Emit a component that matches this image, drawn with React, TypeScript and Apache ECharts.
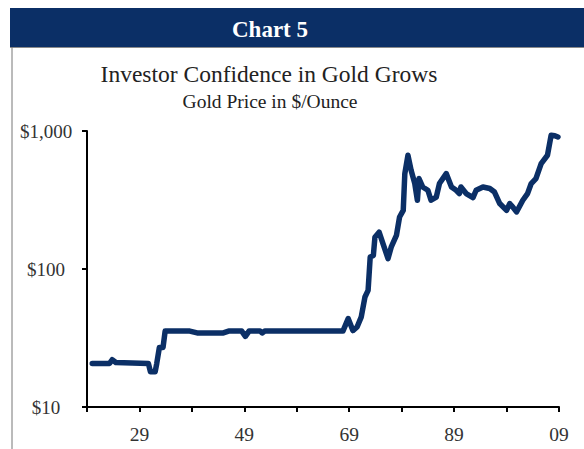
import React, { useEffect, useRef } from "react";
import * as echarts from "echarts";

const years = [
  1920, 1922, 1923.3, 1923.8, 1924.5, 1930.7, 1931.1, 1932, 1932.3, 1932.8, 1933.5, 1933.9,
  1938.6, 1940, 1945, 1946, 1948.5, 1949.2, 1949.9, 1950.4, 1952, 1952.4, 1952.9, 1967.8,
  1968.8, 1969.7, 1970.5, 1971.3, 1972, 1972.6, 1973, 1973.6, 1973.9, 1974.7, 1975.5, 1976.4,
  1977, 1978, 1978.6, 1979.3, 1979.6, 1980.2, 1980.8, 1981.5, 1982, 1982.3, 1983, 1984,
  1984.6, 1985.6, 1986.2, 1987.5, 1988.5, 1989.4, 1990, 1990.3, 1991.3, 1992.6, 1993.2, 1994.5,
  1995.8, 1996.7, 1997.7, 1999, 1999.6, 2000.2, 2000.9, 2002.1, 2003, 2003.7, 2004.6, 2005.6,
  2006.8, 2007.5, 2008.2, 2008.8,
];
const prices = [
  20.7, 20.7, 20.7, 22, 21, 20.7, 18, 18, 20.7, 27, 27, 35.5,
  35.5, 34.4, 34.4, 35.5, 35.5, 32.5, 35.5, 35.5, 35.5, 34.4, 35.5, 35.5,
  43.7, 35.8, 38, 45, 62.7, 70, 122, 125, 170, 185, 150, 119,
  144, 175, 238, 266, 490, 667, 519, 416, 315, 452, 393, 372,
  315, 332, 416, 491, 393, 372, 352, 393, 352, 329, 372, 393,
  383, 361, 298, 266, 298, 281, 259, 315, 352, 416, 452, 581,
  667, 931, 925, 905,
];
const yTickLabels: Record<number, string> = { 10: "$10", 100: "$100", 1000: "$1,000" };
const headerText = "Chart 5";
const titleText = "Investor Confidence in Gold Grows";
const subtitleText = "Gold Price in $/Ounce";

const NAVY = "#0b2f66";
const FONT = "'Liberation Serif', 'DejaVu Serif', serif";

export default function App() {
  const ref = useRef<HTMLDivElement>(null);
  useEffect(() => {
    if (!ref.current) return;
    const chart = echarts.init(ref.current, undefined, { renderer: "svg" });
    chart.setOption({
      animation: false,
      backgroundColor: "#ffffff",
      textStyle: { fontFamily: FONT },
      graphic: [
        { type: "rect", shape: { x: 10, y: 8, width: 574, height: 39 }, style: { fill: NAVY } },
        { type: "line", shape: { x1: 10, y1: 47.5, x2: 584, y2: 47.5 }, style: { stroke: "#8a8a8a", lineWidth: 1 } },
        { type: "line", shape: { x1: 12, y1: 47, x2: 12, y2: 449 }, style: { stroke: "#777777", lineWidth: 1 } },
        {
          type: "text", x: 270, y: 29,
          style: { text: headerText, fill: "#ffffff", font: `bold 23px ${FONT}`, textAlign: "center", textVerticalAlign: "middle" },
        },
        {
          type: "text", x: 269, y: 74,
          style: { text: titleText, fill: "#222222", font: `23.5px ${FONT}`, textAlign: "center", textVerticalAlign: "middle" },
        },
        {
          type: "text", x: 270, y: 101,
          style: { text: subtitleText, fill: "#222222", font: `19.5px ${FONT}`, textAlign: "center", textVerticalAlign: "middle" },
        },
      ],
      grid: { left: 87, right: 25, top: 131, bottom: 42, containLabel: false },
      xAxis: {
        type: "value",
        min: 1919,
        max: 2009,
        interval: 10,
        axisLine: { lineStyle: { color: "#000", width: 2 } },
        axisTick: { show: true, length: 5, lineStyle: { color: "#000", width: 2 } },
        axisLabel: {
          margin: 17,
          color: "#333",
          fontSize: 19.5,
          fontFamily: FONT,
          showMaxLabel: true,
          formatter: (v: number) => ((Math.round(v) - 1929) % 20 === 0 ? String(Math.round(v) % 100).padStart(2, "0") : ""),
        },
        splitLine: { show: false },
      },
      yAxis: {
        type: "log",
        logBase: 10,
        min: 10,
        max: 1000,
        axisLine: { show: true, lineStyle: { color: "#000", width: 2 } },
        axisTick: { show: true, length: 5, lineStyle: { color: "#000", width: 2 } },
        axisLabel: {
          margin: 41,
          align: "center",
          color: "#333",
          fontSize: 19,
          fontFamily: FONT,
          formatter: (v: number) => yTickLabels[Math.round(v)] ?? "",
        },
        splitLine: { show: false },
      },
      series: [
        {
          type: "line",
          data: years.map((y, i) => [y, prices[i]]),
          showSymbol: false,
          lineStyle: { color: NAVY, width: 5.5, cap: "round", join: "round" },
          itemStyle: { color: NAVY },
        },
      ],
    });
    return () => chart.dispose();
  }, []);
  return <div ref={ref} style={{ position: "fixed", left: 0, top: 0, width: 584, height: 449 }} />;
}
